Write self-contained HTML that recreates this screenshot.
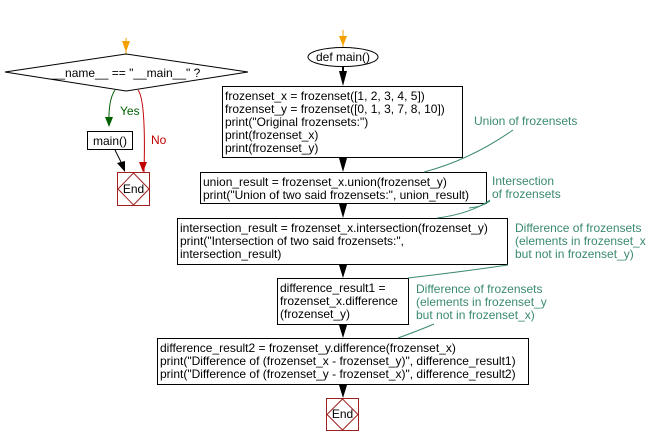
<!DOCTYPE html>
<html><head><style>body{margin:0;background:#fff}svg{display:block}text{font-family:"Liberation Sans",Arial,sans-serif;font-size:12px}</style></head><body>
<svg width="661" height="445" viewBox="0 0 661 445" xmlns="http://www.w3.org/2000/svg">
<!-- left flow -->
<line x1="126" y1="38" x2="126" y2="54" stroke="#f5a000" stroke-width="1"/>
<path d="M122,41 L130,41 L126,52 Z" fill="#f5a000"/>
<polygon points="5,72 126,54 248,72 126,91" fill="#fff" stroke="#000"/>
<text x="126" y="77" text-anchor="middle">__name__ == "__main__" ?</text>
<path d="M115,90 Q108,100 109,126" fill="none" stroke="#006000"/>
<path d="M105,117 L113,117 L109,127 Z" fill="#006000"/>
<text x="120" y="115" fill="#006000">Yes</text>
<path d="M138,90 Q146,100 144,172" fill="none" stroke="#c00000"/>
<path d="M139,162 L147,162 L143,172 Z" fill="#c00000"/>
<text x="151" y="144" fill="#c00000">No</text>
<rect x="87.5" y="131.5" width="45" height="18" fill="#fff" stroke="#000"/>
<text x="110" y="145" text-anchor="middle">main()</text>
<line x1="115" y1="150" x2="123" y2="166" stroke="#000"/>
<path d="M117,163 L125,161 L125,172 Z" fill="#000"/>
<rect x="117.5" y="172.5" width="32" height="33" fill="#fff" stroke="#a02020"/>
<polygon points="133.5,173 149,189 133.5,205 118,189" fill="#fff" stroke="#a02020"/>
<text x="133.5" y="193" text-anchor="middle">End</text>
<!-- main flow -->
<line x1="343" y1="30" x2="343" y2="48" stroke="#f5a000"/>
<path d="M339,36 L347,36 L343,46 Z" fill="#f5a000"/>
<ellipse cx="343" cy="57" rx="35" ry="9.5" fill="#fff" stroke="#000"/>
<text x="343" y="61" text-anchor="middle">def main()</text>
<g fill="#000">
<path d="M339,71 L347,71 L343,86 Z"/><rect x="342" y="67" width="2" height="6"/>
<path d="M339,158 L347,158 L343,172 Z"/>
<path d="M339,204 L347,204 L343,218 Z"/>
<path d="M339,265 L347,265 L343,278 Z"/>
<path d="M339,325 L347,325 L343,338 Z"/>
<path d="M339,385 L347,385 L343,398 Z"/>
</g>
<rect x="222.5" y="86.5" width="240" height="71" fill="#fff" stroke="#000"/>
<text x="225" y="100">frozenset_x = frozenset([1, 2, 3, 4, 5])</text>
<text x="225" y="113">frozenset_y = frozenset([0, 1, 3, 7, 8, 10])</text>
<text x="225" y="126">print("Original frozensets:")</text>
<text x="225" y="139">print(frozenset_x)</text>
<text x="225" y="152">print(frozenset_y)</text>
<rect x="200.5" y="172.5" width="286" height="31" fill="#fff" stroke="#000"/>
<text x="203" y="186">union_result = frozenset_x.union(frozenset_y)</text>
<text x="203" y="199">print("Union of two said frozensets:", union_result)</text>
<rect x="177.5" y="218.5" width="330" height="46" fill="#fff" stroke="#000"/>
<text x="180" y="232">intersection_result = frozenset_x.intersection(frozenset_y)</text>
<text x="180" y="245">print("Intersection of two said frozensets:",</text>
<text x="180" y="258">intersection_result)</text>
<rect x="277.5" y="278.5" width="131" height="46" fill="#fff" stroke="#000"/>
<text x="280" y="292">difference_result1 =</text>
<text x="280" y="305">frozenset_x.difference</text>
<text x="280" y="318">(frozenset_y)</text>
<rect x="157.5" y="338.5" width="371" height="46" fill="#fff" stroke="#000"/>
<text x="160" y="352">difference_result2 = frozenset_y.difference(frozenset_x)</text>
<text x="160" y="365">print("Difference of (frozenset_x - frozenset_y)", difference_result1)</text>
<text x="160" y="378">print("Difference of (frozenset_y - frozenset_x)", difference_result2)</text>
<rect x="326.5" y="398.5" width="32" height="32" fill="#fff" stroke="#a02020"/>
<polygon points="342.5,399 358,414.5 342.5,430 327,414.5" fill="#fff" stroke="#a02020"/>
<text x="342.5" y="418" text-anchor="middle">End</text>
<!-- comments -->
<g fill="#3a8a6e"><text x="474" y="125">Union of frozensets</text>
<text x="492" y="185">Intersection</text><text x="492" y="198">of frozensets</text>
<text x="515" y="232">Difference of frozensets</text><text x="515" y="245">(elements in frozenset_x</text><text x="515" y="258">but not in frozenset_y)</text>
<text x="416" y="293">Difference of frozensets</text><text x="416" y="306">(elements in frozenset_y</text><text x="416" y="319">but not in frozenset_x)</text></g>
<g fill="none" stroke="#3a8a6e">
<path d="M424,172 Q470,160 513,130"/>
<path d="M469,208 Q482,207 490,201"/>
<path d="M437,218 Q470,214 490,200"/>
<path d="M408,278 Q460,272 508,265"/>
<path d="M398,338 Q420,330 434,324"/>
</g>
</svg>
</body></html>
